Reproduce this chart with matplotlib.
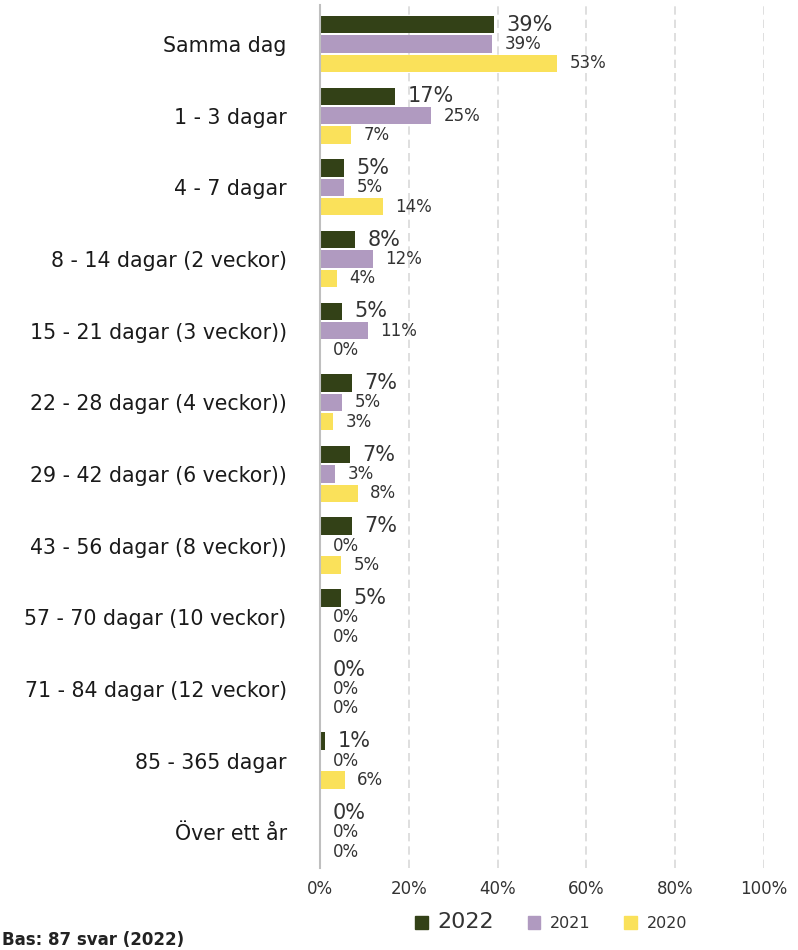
import numpy as np
import matplotlib
matplotlib.use("Agg")
import matplotlib.pyplot as plt
from matplotlib.patches import Patch

categories = [
    "Samma dag", "1 - 3 dagar", "4 - 7 dagar", "8 - 14 dagar (2 veckor)",
    "15 - 21 dagar (3 veckor))", "22 - 28 dagar (4 veckor))",
    "29 - 42 dagar (6 veckor))", "43 - 56 dagar (8 veckor))",
    "57 - 70 dagar (10 veckor)", "71 - 84 dagar (12 veckor)",
    "85 - 365 dagar", "Över ett år",
]
v2022 = [39.1, 16.9, 5.4, 7.9, 5.0, 7.2, 6.8, 7.2, 4.7, 0.0, 1.1, 0.0]
v2021 = [38.8, 25.0, 5.4, 11.9, 10.8, 5.0, 3.4, 0.0, 0.0, 0.0, 0.0, 0.0]
v2020 = [53.4, 7.0, 14.2, 3.8, 0.0, 2.9, 8.5, 4.7, 0.0, 0.0, 5.6, 0.0]
years = ["2022", "2021", "2020"]
colors = ["#334117", "#b09ac0", "#fae15a"]

fig = plt.figure(figsize=(7.98, 9.5), dpi=100)
ax = fig.add_axes([320 / 798, 1 - 868 / 950, 444 / 798, 863 / 950])

y = np.arange(len(categories))
offsets = [-0.27, 0.0, 0.27]
label_sizes = [15, 12, 12]
for vals, off, col, fs in zip([v2022, v2021, v2020], offsets, colors, label_sizes):
    bars = ax.barh(y + off, vals, height=0.245, color=col, zorder=3)
    for b, v in zip(bars, vals):
        ax.annotate(f"{round(v):d}%", (b.get_width(), b.get_y() + b.get_height() / 2),
                    xytext=(9, 0), textcoords="offset points",
                    va="center", ha="left", fontsize=fs, color="#333333")

ax.set_xlim(0, 100)
ax.set_ylim(11.5, -0.545)
ax.set_yticks(y)
ax.set_yticklabels(categories, fontsize=14.8, color="#1a1a1a")
ax.set_xticks(np.arange(0, 101, 20))
ax.set_xticklabels([f"{t}%" for t in range(0, 101, 20)], fontsize=12, color="#333333")
ax.tick_params(axis="y", length=0, pad=24)
ax.tick_params(axis="x", length=0, pad=9)
ax.grid(axis="x", color="#d9d9d9", linestyle=(0, (5, 3)), lw=1.2, zorder=0)
for s in ["top", "right", "bottom"]:
    ax.spines[s].set_visible(False)
ax.spines["left"].set_color("#bfbfbf")
ax.spines["left"].set_linewidth(1.5)
ax.spines["left"].set_zorder(4)

handles = [Patch(color=c, label=l) for c, l in zip(colors, years)]
leg = fig.legend(handles=handles, loc="center", bbox_to_anchor=(551 / 798, 1 - 922 / 950),
                 ncol=3, frameon=False, handlelength=0.8, handleheight=0.8,
                 columnspacing=2.1, handletextpad=0.6, fontsize=11.5)
texts = leg.get_texts()
texts[0].set_fontsize(16)
for t in texts:
    t.set_color("#333333")

fig.text(0.002, 1 - 940 / 950, "Bas: 87 svar (2022)", fontsize=12, fontweight="bold",
         color="#222222", va="center", ha="left")

fig.savefig("out.png", dpi=100)
